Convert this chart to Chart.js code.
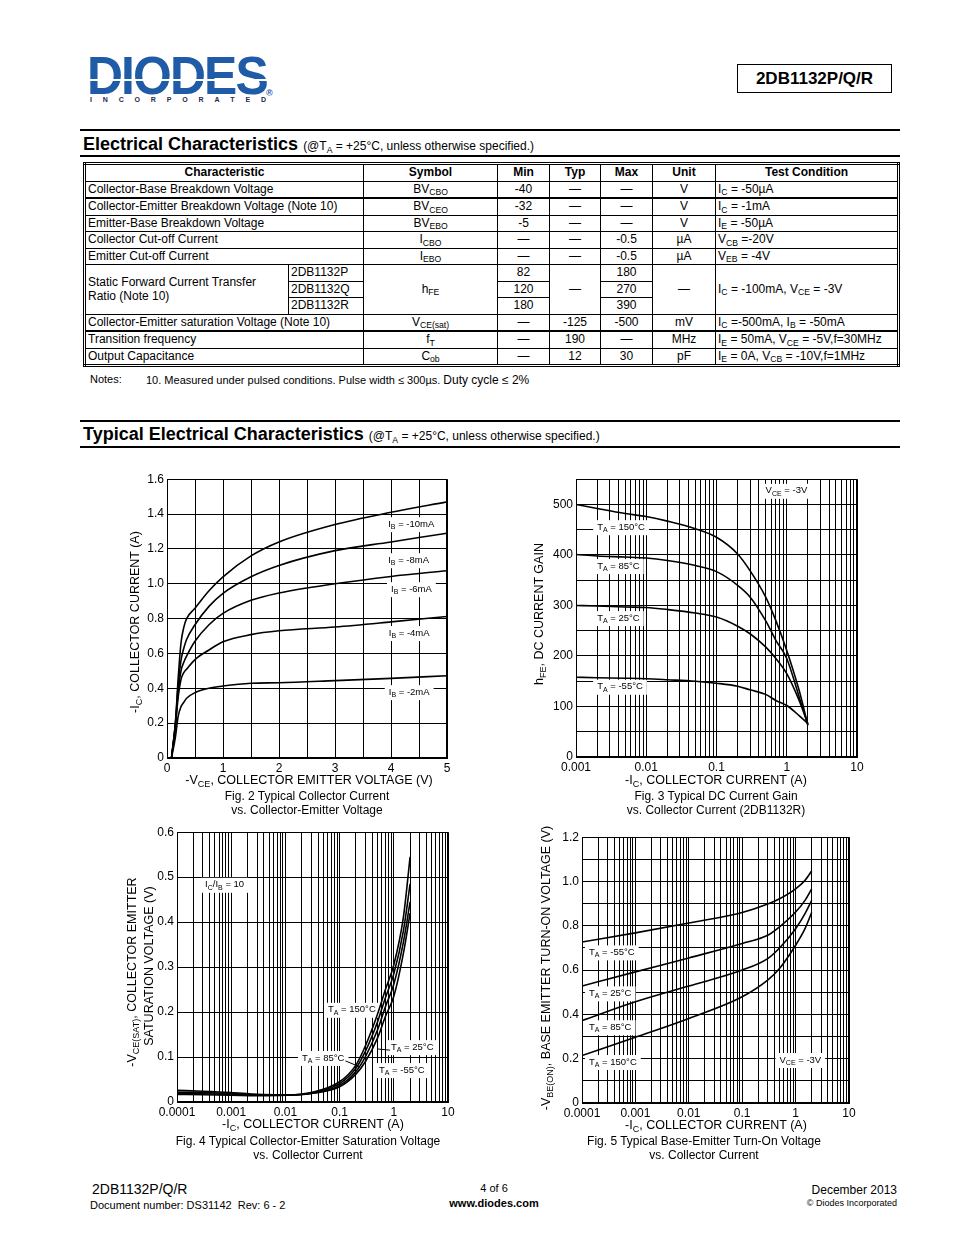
<!DOCTYPE html>
<html>
<head>
<meta charset="utf-8">
<script src="https://cdn.jsdelivr.net/npm/chart.js@4.4.0/dist/chart.umd.min.js"></script>
<style>
body { margin: 0; background: #fff; font-family: "Liberation Sans", Arial, sans-serif; color: #000; }
#page { position: relative; width: 954px; height: 1235px; overflow: hidden; background: #fff; }
.t { position: absolute; white-space: nowrap; line-height: 1.2; }
.c { transform: translateX(-50%); }
.r { transform: translateX(-100%); }
.rot { transform: translate(-50%, -50%) rotate(-90deg); }
.s { font-size: 0.72em; position: relative; top: 0.3em; line-height: 0; }
.rule { position: absolute; background: #000; }
canvas { position: absolute; }
table.ec { position: absolute; left: 83px; top: 162px; width: 814px; border-collapse: collapse; border: 3px double #000; font-size: 12px; table-layout: fixed; }
table.ec td, table.ec th { border: 1px solid #000; height: 15.5px; padding: 0 2px; line-height: 13px; white-space: nowrap; overflow: hidden; }
table.ec th { font-weight: bold; text-align: center; }
table.ec td.m { text-align: center; }
table.ec tr.thick td { border-bottom: 2px solid #000; }
</style>
</head>
<body>
<div id="page">

  <!-- header -->
  <div class="t" style="left:87px;top:49px;font-size:53px;font-weight:bold;color:#1f5ba7;letter-spacing:-2px;line-height:1;transform:scaleX(0.94);transform-origin:left top;">DIODES</div>
  <div style="position:absolute;left:86px;top:79px;width:184px;height:2px;background:#fff;"></div>
  <div style="position:absolute;left:90px;top:96px;width:176px;display:flex;justify-content:space-between;font-size:7px;font-weight:bold;color:#1a2a50;">
    <span>I</span><span>N</span><span>C</span><span>O</span><span>R</span><span>P</span><span>O</span><span>R</span><span>A</span><span>T</span><span>E</span><span>D</span>
  </div>
  <div class="t" style="left:266px;top:88px;font-size:9px;font-weight:bold;color:#1f5ba7;">&reg;</div>
  <div style="position:absolute;left:737px;top:64px;width:153px;height:27px;border:1.5px solid #000;font-size:17px;font-weight:bold;text-align:center;line-height:27px;">2DB1132P/Q/R</div>

  <div class="rule" style="left:80px;top:129px;width:820px;height:2px;"></div>
  <div class="t" style="left:83px;top:134px;font-size:18px;font-weight:bold;">Electrical Characteristics <span style="font-size:12px;font-weight:normal;">(@T<span class="s">A</span> = +25°C, unless otherwise specified.)</span></div>
  <div class="rule" style="left:80px;top:155px;width:820px;height:2px;"></div>

  <table class="ec">
    <colgroup>
      <col style="width:204px"><col style="width:75px"><col style="width:134px"><col style="width:52px">
      <col style="width:51px"><col style="width:52px"><col style="width:63px"><col style="width:183px">
    </colgroup>
    <tr><th colspan="2">Characteristic</th><th>Symbol</th><th>Min</th><th>Typ</th><th>Max</th><th>Unit</th><th>Test Condition</th></tr>
    <tr class="thick"><td colspan="2">Collector-Base Breakdown Voltage</td><td class="m">BV<span class="s">CBO</span></td><td class="m">-40</td><td class="m">—</td><td class="m">—</td><td class="m">V</td><td>I<span class="s">C</span> = -50µA</td></tr>
    <tr><td colspan="2">Collector-Emitter Breakdown Voltage (Note 10)</td><td class="m">BV<span class="s">CEO</span></td><td class="m">-32</td><td class="m">—</td><td class="m">—</td><td class="m">V</td><td>I<span class="s">C</span> = -1mA</td></tr>
    <tr><td colspan="2">Emitter-Base Breakdown Voltage</td><td class="m">BV<span class="s">EBO</span></td><td class="m">-5</td><td class="m">—</td><td class="m">—</td><td class="m">V</td><td>I<span class="s">E</span> = -50µA</td></tr>
    <tr><td colspan="2">Collector Cut-off Current</td><td class="m">I<span class="s">CBO</span></td><td class="m">—</td><td class="m">—</td><td class="m">-0.5</td><td class="m">µA</td><td>V<span class="s">CB</span> =-20V</td></tr>
    <tr><td colspan="2">Emitter Cut-off Current</td><td class="m">I<span class="s">EBO</span></td><td class="m">—</td><td class="m">—</td><td class="m">-0.5</td><td class="m">µA</td><td>V<span class="s">EB</span> = -4V</td></tr>
    <tr><td rowspan="3" style="white-space:normal;line-height:14px;">Static Forward Current Transfer Ratio (Note 10)</td><td>2DB1132P</td><td rowspan="3" class="m">h<span class="s">FE</span></td><td class="m">82</td><td rowspan="3" class="m">—</td><td class="m">180</td><td rowspan="3" class="m">—</td><td rowspan="3">I<span class="s">C</span> = -100mA, V<span class="s">CE</span> = -3V</td></tr>
    <tr><td>2DB1132Q</td><td class="m">120</td><td class="m">270</td></tr>
    <tr><td>2DB1132R</td><td class="m">180</td><td class="m">390</td></tr>
    <tr class="thick"><td colspan="2">Collector-Emitter saturation Voltage (Note 10)</td><td class="m">V<span class="s">CE(sat)</span></td><td class="m">—</td><td class="m">-125</td><td class="m">-500</td><td class="m">mV</td><td>I<span class="s">C</span> =-500mA, I<span class="s">B</span> = -50mA</td></tr>
    <tr><td colspan="2">Transition frequency</td><td class="m">f<span class="s">T</span></td><td class="m">—</td><td class="m">190</td><td class="m">—</td><td class="m">MHz</td><td>I<span class="s">E</span> = 50mA, V<span class="s">CE</span> = -5V,f=30MHz</td></tr>
    <tr><td colspan="2">Output Capacitance</td><td class="m">C<span class="s">ob</span></td><td class="m">—</td><td class="m">12</td><td class="m">30</td><td class="m">pF</td><td>I<span class="s">E</span> = 0A, V<span class="s">CB</span> = -10V,f=1MHz</td></tr>
  </table>

  <div class="t" style="left:90px;top:373px;font-size:11px;">Notes:</div>
  <div class="t" style="left:146px;top:373px;font-size:11px;">10. Measured under pulsed conditions. Pulse width ≤ 300µs. <span style="font-size:12px;">Duty cycle ≤ 2%</span></div>

  <div class="rule" style="left:80px;top:420px;width:820px;height:2px;"></div>
  <div class="t" style="left:83px;top:424px;font-size:18px;font-weight:bold;">Typical Electrical Characteristics <span style="font-size:12px;font-weight:normal;">(@T<span class="s">A</span> = +25°C, unless otherwise specified.)</span></div>
  <div class="rule" style="left:80px;top:446px;width:820px;height:2px;"></div>

  <!-- charts -->
  <canvas id="fig2"></canvas>
  <canvas id="fig3"></canvas>
  <canvas id="fig4"></canvas>
  <canvas id="fig5"></canvas>

  <!-- fig 2 texts -->
  <div class="t rot" style="left:135px;top:622px;font-size:12.5px;">-I<span class="s">C</span>, COLLECTOR CURRENT (A)</div>
  <div class="t c" style="left:309px;top:773px;font-size:12.5px;">-V<span class="s">CE</span>, COLLECTOR EMITTER VOLTAGE (V)</div>
  <div class="t c" style="left:307px;top:789px;font-size:12px;">Fig. 2 Typical Collector Current</div>
  <div class="t c" style="left:307px;top:803px;font-size:12px;">vs. Collector-Emitter Voltage</div>

  <!-- fig 3 texts -->
  <div class="t rot" style="left:539px;top:614px;font-size:12.5px;">h<span class="s">FE</span>, DC CURRENT GAIN</div>
  <div class="t c" style="left:716px;top:773px;font-size:12.5px;">-I<span class="s">C</span>, COLLECTOR CURRENT (A)</div>
  <div class="t c" style="left:716px;top:789px;font-size:12px;">Fig. 3 Typical DC Current Gain</div>
  <div class="t c" style="left:716px;top:803px;font-size:12px;">vs. Collector Current (2DB1132R)</div>

  <!-- fig 4 texts -->
  <div class="t rot" style="left:132px;top:972px;font-size:12.5px;">-V<span class="s">CE(SAT)</span>, COLLECTOR EMITTER</div>
  <div class="t rot" style="left:149px;top:966px;font-size:12.5px;">SATURATION VOLTAGE (V)</div>
  <div class="t c" style="left:313px;top:1117px;font-size:12.5px;">-I<span class="s">C</span>, COLLECTOR CURRENT (A)</div>
  <div class="t c" style="left:308px;top:1134px;font-size:12px;">Fig. 4 Typical Collector-Emitter Saturation Voltage</div>
  <div class="t c" style="left:308px;top:1148px;font-size:12px;">vs. Collector Current</div>

  <!-- fig 5 texts -->
  <div class="t rot" style="left:546px;top:968px;font-size:12.5px;">-V<span class="s">BE(ON)</span>, BASE EMITTER TURN-ON VOLTAGE (V)</div>
  <div class="t c" style="left:716px;top:1118px;font-size:12.5px;">-I<span class="s">C</span>, COLLECTOR CURRENT (A)</div>
  <div class="t c" style="left:704px;top:1134px;font-size:12px;">Fig. 5 Typical Base-Emitter Turn-On Voltage</div>
  <div class="t c" style="left:704px;top:1148px;font-size:12px;">vs. Collector Current</div>

  <!-- footer -->
  <div class="t" style="left:92px;top:1181px;font-size:14px;">2DB1132P/Q/R</div>
  <div class="t" style="left:90px;top:1199px;font-size:11px;">Document number: DS31142&nbsp; Rev: 6 - 2</div>
  <div class="t c" style="left:494px;top:1182px;font-size:11px;">4 of 6</div>
  <div class="t c" style="left:494px;top:1197px;font-size:11px;font-weight:bold;">www.diodes.com</div>
  <div class="t r" style="left:897px;top:1183px;font-size:12px;">December 2013</div>
  <div class="t r" style="left:897px;top:1198px;font-size:9px;">© Diodes Incorporated</div>
</div>

<script>
// ---- Fig 2: IC vs VCE ----
const fig2Vce   = [0.08, 0.15, 0.2, 0.25, 0.3, 0.35, 0.5, 0.75, 1, 1.5, 2, 3, 4, 5];
const fig2Ib10  = [0, 0.20, 0.46, 0.66, 0.75, 0.80, 0.86, 0.96, 1.04, 1.16, 1.24, 1.34, 1.41, 1.47];
const fig2Ib8   = [0, 0.20, 0.42, 0.56, 0.63, 0.68, 0.765, 0.87, 0.945, 1.04, 1.105, 1.19, 1.24, 1.29];
const fig2Ib6   = [0, 0.19, 0.38, 0.50, 0.55, 0.585, 0.67, 0.765, 0.83, 0.905, 0.947, 1.00, 1.042, 1.075];
const fig2Ib4   = [0, 0.18, 0.35, 0.45, 0.49, 0.51, 0.565, 0.62, 0.667, 0.708, 0.73, 0.752, 0.781, 0.812];
const fig2Ib2   = [0, 0.12, 0.24, 0.295, 0.32, 0.343, 0.375, 0.40, 0.413, 0.429, 0.432, 0.444, 0.457, 0.472];
const fig2XLabels = ['0', '1', '2', '3', '4', '5'];

// ---- Fig 3: hFE vs IC ----
const fig3Ic    = [0.001, 0.002, 0.005, 0.01, 0.02, 0.05, 0.1, 0.2, 0.3, 0.5, 0.7, 1, 1.5, 2];
const fig3T150  = [500, 492, 482, 476, 467, 452, 435, 402, 369, 317, 270, 211, 132, 63];
const fig3T85   = [401, 398, 396, 394, 389, 379, 367, 340, 317, 270, 231, 195, 119, 63];
const fig3T25   = [300, 299, 297, 296, 292, 285, 277, 259, 244, 218, 195, 165, 112, 66];
const fig3Tm55  = [158, 157, 156, 155, 153, 150, 146, 140, 133, 124, 112, 102, 82, 66];
const fig3XLabels = ['0.001', '0.01', '0.1', '1', '10'];

// ---- Fig 4: VCE(sat) vs IC ----
const fig4Ic    = [0.0001, 0.0003, 0.001, 0.003, 0.01, 0.03, 0.1, 0.2, 0.3, 0.5, 0.7, 1, 1.5, 2];
const fig4T150  = [0.017, 0.016, 0.015, 0.014, 0.015, 0.021, 0.045, 0.082, 0.125, 0.195, 0.25, 0.305, 0.41, 0.545];
const fig4T85   = [0.019, 0.018, 0.017, 0.015, 0.015, 0.020, 0.041, 0.075, 0.113, 0.178, 0.232, 0.285, 0.38, 0.485];
const fig4T25   = [0.022, 0.021, 0.019, 0.016, 0.015, 0.019, 0.037, 0.068, 0.101, 0.160, 0.212, 0.262, 0.355, 0.445];
const fig4Tm55  = [0.026, 0.024, 0.021, 0.017, 0.016, 0.019, 0.034, 0.062, 0.090, 0.142, 0.190, 0.235, 0.33, 0.42];
const fig4XLabels = ['0.0001', '0.001', '0.01', '0.1', '1', '10'];

// ---- Fig 5: VBE(on) vs IC ----
const fig5Ic    = [0.0001, 0.001, 0.01, 0.1, 0.3, 0.5, 1, 1.5, 2];
const fig5Tm55  = [0.727, 0.768, 0.813, 0.86, 0.898, 0.922, 0.967, 1.005, 1.047];
const fig5T25   = [0.528, 0.592, 0.655, 0.72, 0.757, 0.795, 0.862, 0.915, 0.967];
const fig5T85   = [0.372, 0.457, 0.528, 0.60, 0.652, 0.70, 0.787, 0.855, 0.915];
const fig5T150  = [0.214, 0.297, 0.382, 0.48, 0.555, 0.607, 0.712, 0.787, 0.86];
const fig5XLabels = ['0.0001', '0.001', '0.01', '0.1', '1', '10'];

const FONT = "'Liberation Sans', Arial, sans-serif";
Chart.defaults.font.family = FONT;
Chart.defaults.font.size = 12;
Chart.defaults.color = '#000';

const PAD = { l: 50, t: 10, r: 14, b: 22 };

function placeCanvas(id, area) {
  const c = document.getElementById(id);
  c.width = area.R - area.L + PAD.l + PAD.r;
  c.height = area.B - area.T + PAD.t + PAD.b;
  c.style.left = (area.L - PAD.l) + 'px';
  c.style.top = (area.T - PAD.t) + 'px';
  return c;
}

function pts(xs, ys) {
  return xs.map((x, i) => ({ x: x, y: ys[i] }));
}

function curve(xs, ys) {
  return {
    data: pts(xs, ys),
    borderColor: '#000',
    borderWidth: 1.6,
    pointRadius: 0,
    fill: false,
    cubicInterpolationMode: 'monotone'
  };
}

// split "I_{B} = -2mA" into normal / subscript pieces
function parseSub(text) {
  const out = [];
  const re = /_\{([^}]*)\}/g;
  let last = 0, m;
  while ((m = re.exec(text))) {
    if (m.index > last) out.push({ t: text.slice(last, m.index), sub: false });
    out.push({ t: m[1], sub: true });
    last = re.lastIndex;
  }
  if (last < text.length) out.push({ t: text.slice(last), sub: false });
  return out;
}

function notesPlugin(items) {
  return {
    id: 'notes',
    beforeDatasetsDraw(chart) {
      const ctx = chart.ctx;
      const xs = chart.scales.x, ys = chart.scales.y;
      ctx.save();
      items.forEach(n => {
        const px = xs.getPixelForValue(n.x);
        const py = ys.getPixelForValue(n.y);
        const parts = parseSub(n.text);
        let w = 0;
        parts.forEach(p => {
          ctx.font = (p.sub ? '7px ' : '9.5px ') + FONT;
          p.w = ctx.measureText(p.t).width;
          w += p.w;
        });
        ctx.fillStyle = '#fff';
        ctx.fillRect(px - 4, py - 7, w + 8, 15);
        if (n.leader) {
          ctx.strokeStyle = '#000';
          ctx.lineWidth = 1;
          ctx.beginPath();
          const sx = n.leader.side === 'left' ? px - 1 : px + w + 1;
          ctx.moveTo(sx, py + 3);
          ctx.lineTo(xs.getPixelForValue(n.leader.x), ys.getPixelForValue(n.leader.y));
          ctx.stroke();
        }
        let cx = px;
        ctx.fillStyle = '#000';
        ctx.textBaseline = 'middle';
        parts.forEach(p => {
          ctx.font = (p.sub ? '7px ' : '9.5px ') + FONT;
          ctx.fillText(p.t, cx, py + (p.sub ? 3 : 0));
          cx += p.w;
        });
      });
      ctx.restore();
    }
  };
}

const framePlugin = {
  id: 'frame',
  afterDraw(chart) {
    const a = chart.chartArea, ctx = chart.ctx;
    ctx.save();
    ctx.strokeStyle = '#000';
    ctx.lineWidth = 1;
    ctx.strokeRect(Math.round(a.left) + 0.5, Math.round(a.top) + 0.5, Math.round(a.right - a.left) - 1, Math.round(a.bottom - a.top) - 1);
    ctx.restore();
  }
};

function logTicks(min, max) {
  const out = [];
  for (let e = Math.round(Math.log10(min)); e < Math.round(Math.log10(max)); e++) {
    for (let m = 1; m < 10; m++) out.push(m * Math.pow(10, e));
  }
  out.push(max);
  return out;
}

function logAxis(min, max, labels) {
  const e0 = Math.round(Math.log10(min));
  return {
    type: 'logarithmic',
    min: min, max: max,
    afterBuildTicks: s => { s.ticks = logTicks(min, max).map(v => ({ value: v })); },
    afterFit: s => { s.height = PAD.b; },
    grid: { color: '#000', lineWidth: 1, drawTicks: false },
    border: { color: '#000', width: 1 },
    ticks: {
      autoSkip: false, maxRotation: 0, padding: 3,
      callback: v => {
        const e = Math.log10(v);
        return Math.abs(e - Math.round(e)) < 1e-6 ? labels[Math.round(e) - e0] : '';
      }
    }
  };
}

function linAxis(min, max, step, cb, vertical) {
  return {
    type: 'linear',
    min: min, max: max,
    afterFit: s => { if (vertical) s.width = PAD.l; else s.height = PAD.b; },
    grid: { color: '#000', lineWidth: 1, drawTicks: false },
    border: { color: '#000', width: 1 },
    ticks: { stepSize: step, autoSkip: false, maxRotation: 0, padding: 3, callback: cb }
  };
}

function makeChart(id, area, xAxis, yAxis, datasets, notes) {
  const canvas = placeCanvas(id, area);
  return new Chart(canvas, {
    type: 'line',
    data: { datasets: datasets },
    options: {
      responsive: false,
      animation: false,
      layout: { padding: { left: 0, top: PAD.t, right: PAD.r, bottom: 0 } },
      scales: { x: xAxis, y: yAxis },
      plugins: { legend: { display: false }, tooltip: { enabled: false } }
    },
    plugins: [notesPlugin(notes), framePlugin]
  });
}

const dec1 = v => (Math.abs(v) < 1e-9 ? '0' : v.toFixed(1));

// Fig 2
makeChart('fig2', { L: 167, T: 479, R: 447, B: 758 },
  linAxis(0, 5, 0.5, v => (Math.abs(v - Math.round(v)) < 1e-6 ? fig2XLabels[Math.round(v)] : ''), false),
  linAxis(0, 1.6, 0.2, dec1, true),
  [curve(fig2Vce, fig2Ib10), curve(fig2Vce, fig2Ib8), curve(fig2Vce, fig2Ib6), curve(fig2Vce, fig2Ib4), curve(fig2Vce, fig2Ib2)],
  [
    { x: 3.95, y: 1.342, text: 'I_{B} = -10mA' },
    { x: 3.95, y: 1.135, text: 'I_{B} = -8mA' },
    { x: 4.0, y: 0.969, text: 'I_{B} = -6mA' },
    { x: 3.96, y: 0.717, text: 'I_{B} = -4mA' },
    { x: 3.96, y: 0.378, text: 'I_{B} = -2mA' }
  ]);

// Fig 3
makeChart('fig3', { L: 576, T: 479, R: 857, B: 757 },
  logAxis(0.001, 10, fig3XLabels),
  linAxis(0, 550, 50, v => (Math.round(v) % 100 === 0 ? String(Math.round(v)) : ''), true),
  [curve(fig3Ic, fig3T150), curve(fig3Ic, fig3T85), curve(fig3Ic, fig3T25), curve(fig3Ic, fig3Tm55)],
  [
    { x: 0.002, y: 455, text: 'T_{A} = 150°C' },
    { x: 0.002, y: 378, text: 'T_{A} = 85°C' },
    { x: 0.002, y: 275, text: 'T_{A} = 25°C' },
    { x: 0.002, y: 139, text: 'T_{A} = -55°C' },
    { x: 0.5, y: 527, text: 'V_{CE} = -3V' }
  ]);

// Fig 4
makeChart('fig4', { L: 177, T: 832, R: 448, B: 1102 },
  logAxis(0.0001, 10, fig4XLabels),
  linAxis(0, 0.6, 0.1, dec1, true),
  [curve(fig4Ic, fig4T150), curve(fig4Ic, fig4T85), curve(fig4Ic, fig4T25), curve(fig4Ic, fig4Tm55)],
  [
    { x: 0.00033, y: 0.483, text: 'I_{C}/I_{B} = 10' },
    { x: 0.061, y: 0.205, text: 'T_{A} = 150°C' },
    { x: 0.0202, y: 0.098, text: 'T_{A} = 85°C', leader: { x: 0.238, y: 0.078, side: 'right' } },
    { x: 0.887, y: 0.122, text: 'T_{A} = 25°C', leader: { x: 0.49, y: 0.118, side: 'left' } },
    { x: 0.533, y: 0.071, text: 'T_{A} = -55°C' }
  ]);

// Fig 5
makeChart('fig5', { L: 582, T: 837, R: 849, B: 1103 },
  logAxis(0.0001, 10, fig5XLabels),
  linAxis(0, 1.2, 0.1, v => (Math.round(v * 10) % 2 === 0 ? dec1(v) : ''), true),
  [curve(fig5Ic, fig5Tm55), curve(fig5Ic, fig5T25), curve(fig5Ic, fig5T85), curve(fig5Ic, fig5T150)],
  [
    { x: 0.000135, y: 0.68, text: 'T_{A} = -55°C' },
    { x: 0.000135, y: 0.495, text: 'T_{A} = 25°C' },
    { x: 0.000135, y: 0.342, text: 'T_{A} = 85°C' },
    { x: 0.000135, y: 0.185, text: 'T_{A} = 150°C' },
    { x: 0.5, y: 0.194, text: 'V_{CE} = -3V' }
  ]);
</script>
</body>
</html>
